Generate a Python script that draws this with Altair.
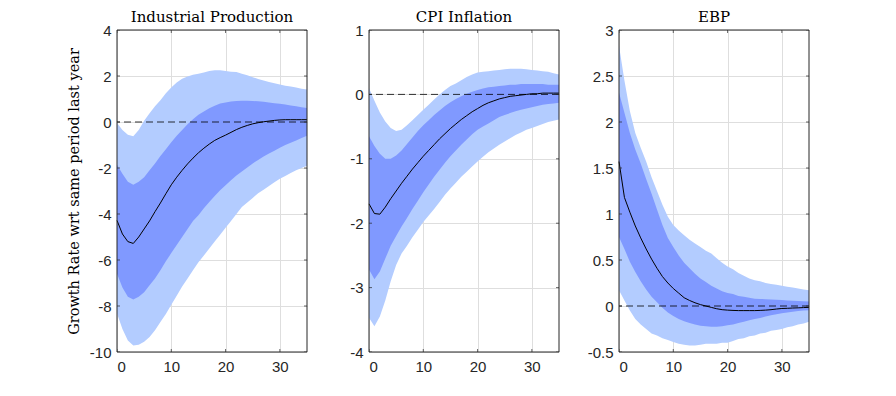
import altair as alt
import pandas as pd

horizon = list(range(36))

titles = ["Industrial Production", "CPI Inflation", "EBP"]
y_title = "Growth Rate wrt same period last year"

# Industrial Production
ip_med = [-4.28, -4.87, -5.2, -5.28, -5.0, -4.65, -4.3, -3.9, -3.52, -3.12, -2.73, -2.4, -2.1, -1.82, -1.57, -1.34,
          -1.14, -0.96, -0.8, -0.68, -0.57, -0.45, -0.33, -0.23, -0.15, -0.08, -0.03, 0.01, 0.04, 0.07, 0.09, 0.1,
          0.1, 0.1, 0.1, 0.1]
ip_in_hi = [-1.86, -2.25, -2.6, -2.73, -2.6, -2.4, -2.1, -1.8, -1.48, -1.18, -0.88, -0.6, -0.35, -0.1, 0.12, 0.32,
            0.46, 0.6, 0.71, 0.8, 0.85, 0.89, 0.91, 0.92, 0.92, 0.91, 0.9, 0.88, 0.85, 0.82, 0.79, 0.76, 0.72, 0.68,
            0.64, 0.61]
ip_in_lo = [-6.6, -7.2, -7.6, -7.72, -7.6, -7.4, -7.1, -6.8, -6.45, -6.05, -5.7, -5.35, -5.0, -4.65, -4.3, -4.05,
            -3.75, -3.48, -3.22, -2.97, -2.75, -2.53, -2.33, -2.15, -1.98, -1.8, -1.65, -1.5, -1.37, -1.25, -1.12,
            -1.0, -0.9, -0.8, -0.7, -0.6]
ip_out_hi = [-0.04, -0.35, -0.55, -0.62, -0.35, 0.05, 0.38, 0.68, 0.95, 1.25, 1.5, 1.72, 1.88, 1.98, 2.05, 2.1,
             2.15, 2.22, 2.25, 2.25, 2.22, 2.19, 2.17, 2.1, 2.03, 1.95, 1.87, 1.8, 1.74, 1.68, 1.63, 1.58, 1.54, 1.5,
             1.45, 1.41]
ip_out_lo = [-8.33, -9.0, -9.5, -9.72, -9.68, -9.55, -9.35, -9.05, -8.7, -8.35, -7.95, -7.55, -7.15, -6.8, -6.45,
             -6.1, -5.8, -5.5, -5.2, -4.9, -4.6, -4.3, -4.0, -3.7, -3.5, -3.3, -3.1, -2.95, -2.78, -2.62, -2.47,
             -2.35, -2.22, -2.1, -2.0, -1.9]

# CPI Inflation
cpi_med = [-1.7, -1.85, -1.86, -1.75, -1.62, -1.5, -1.38, -1.27, -1.16, -1.06, -0.96, -0.87, -0.78, -0.69, -0.61,
           -0.53, -0.46, -0.39, -0.33, -0.27, -0.22, -0.17, -0.13, -0.1, -0.07, -0.05, -0.03, -0.02, -0.01, 0.0,
           0.01, 0.01, 0.02, 0.02, 0.02, 0.02]
cpi_in_hi = [-0.65, -0.8, -0.92, -1.0, -1.0, -0.95, -0.87, -0.77, -0.67, -0.57, -0.48, -0.4, -0.32, -0.25, -0.18,
             -0.12, -0.07, -0.03, 0.01, 0.04, 0.07, 0.09, 0.11, 0.12, 0.13, 0.14, 0.15, 0.15, 0.16, 0.16, 0.16,
             0.16, 0.16, 0.15, 0.15, 0.15]
cpi_in_lo = [-2.72, -2.87, -2.75, -2.55, -2.35, -2.2, -2.05, -1.92, -1.78, -1.65, -1.52, -1.4, -1.28, -1.17, -1.06,
             -0.96, -0.87, -0.78, -0.7, -0.62, -0.55, -0.5, -0.45, -0.4, -0.35, -0.32, -0.29, -0.26, -0.24, -0.22,
             -0.2, -0.18, -0.16, -0.15, -0.14, -0.13]
cpi_out_hi = [0.1, -0.1, -0.28, -0.42, -0.52, -0.57, -0.55, -0.48, -0.4, -0.32, -0.24, -0.16, -0.08, 0.0, 0.07,
              0.13, 0.17, 0.22, 0.27, 0.31, 0.34, 0.35, 0.36, 0.37, 0.38, 0.39, 0.4, 0.4, 0.4, 0.39, 0.38, 0.37,
              0.36, 0.35, 0.33, 0.31]
cpi_out_lo = [-3.47, -3.6, -3.45, -3.2, -2.9, -2.65, -2.47, -2.35, -2.22, -2.1, -1.98, -1.88, -1.78, -1.67, -1.56,
              -1.46, -1.37, -1.28, -1.2, -1.12, -1.04, -0.97, -0.9, -0.84, -0.78, -0.73, -0.68, -0.63, -0.59, -0.55,
              -0.52, -0.49, -0.46, -0.43, -0.41, -0.39]

# EBP
ebp_med = [1.57, 1.18, 1.02, 0.87, 0.74, 0.62, 0.51, 0.41, 0.32, 0.25, 0.19, 0.14, 0.09, 0.06, 0.035, 0.015, 0.0,
           -0.015, -0.03, -0.04, -0.045, -0.048, -0.05, -0.05, -0.05, -0.05, -0.048, -0.045, -0.04, -0.033, -0.027,
           -0.025, -0.022, -0.02, -0.017, -0.015]
ebp_in_hi = [2.32, 2.1, 1.88, 1.7, 1.55, 1.38, 1.22, 1.05, 0.88, 0.74, 0.64, 0.55, 0.47, 0.41, 0.35, 0.3, 0.26,
             0.22, 0.19, 0.16, 0.14, 0.13, 0.11, 0.1, 0.09, 0.08, 0.077, 0.074, 0.07, 0.067, 0.065, 0.06, 0.058,
             0.055, 0.052, 0.05]
ebp_in_lo = [0.75, 0.62, 0.48, 0.37, 0.27, 0.18, 0.1, 0.04, -0.02, -0.07, -0.11, -0.14, -0.165, -0.185, -0.2,
             -0.215, -0.22, -0.225, -0.225, -0.22, -0.21, -0.2, -0.185, -0.17, -0.155, -0.14, -0.13, -0.115, -0.1,
             -0.09, -0.08, -0.07, -0.062, -0.055, -0.05, -0.045]
ebp_out_hi = [2.83, 2.45, 2.12, 1.88, 1.72, 1.57, 1.4, 1.25, 1.1, 0.97, 0.88, 0.82, 0.77, 0.72, 0.68, 0.64, 0.6,
              0.57, 0.52, 0.47, 0.43, 0.4, 0.36, 0.33, 0.3, 0.28, 0.27, 0.25, 0.24, 0.23, 0.22, 0.21, 0.2, 0.19,
              0.18, 0.17]
ebp_out_lo = [0.17, 0.06, -0.05, -0.14, -0.2, -0.25, -0.3, -0.32, -0.35, -0.37, -0.39, -0.41, -0.42, -0.43, -0.43,
              -0.42, -0.41, -0.41, -0.41, -0.4, -0.4, -0.38, -0.36, -0.35, -0.33, -0.32, -0.3, -0.29, -0.27, -0.26,
              -0.25, -0.23, -0.22, -0.2, -0.19, -0.17]

x_ticks = [0, 10, 20, 30]
y_ticks_list = [
    [-10, -8, -6, -4, -2, 0, 2, 4],
    [-4, -3, -2, -1, 0, 1],
    [-0.5, 0, 0.5, 1, 1.5, 2, 2.5, 3],
]
y_domains = [[-10, 4], [-4, 1], [-0.5, 3]]

series = [
    (ip_med, ip_in_lo, ip_in_hi, ip_out_lo, ip_out_hi),
    (cpi_med, cpi_in_lo, cpi_in_hi, cpi_out_lo, cpi_out_hi),
    (ebp_med, ebp_in_lo, ebp_in_hi, ebp_out_lo, ebp_out_hi),
]

LIGHT = "#b3ccff"
DARK = "#8099ff"
FRAME = "#262626"
SERIF = "DejaVu Serif"
W, H = 190, 322
X_MAX = 35


def panel(i):
    med, in_lo, in_hi, out_lo, out_hi = series[i]
    df = pd.DataFrame({"h": horizon, "med": med, "in_lo": in_lo, "in_hi": in_hi,
                       "out_lo": out_lo, "out_hi": out_hi})
    ydom = y_domains[i]
    xs = alt.Scale(domain=[0, X_MAX], nice=False, zero=False)
    ys = alt.Scale(domain=ydom, nice=False, zero=False)
    yaxis = alt.Axis(values=y_ticks_list[i], grid=True, ticks=False, domain=False,
                     labelExpr="toString(datum.value)", labelPadding=6,
                     minExtent=30, maxExtent=30,
                     title=y_title if i == 0 else None,
                     titleFont=SERIF, titleFontSize=14.5, titleFontWeight="normal",
                     titleColor="black", titlePadding=6)
    xaxis = alt.Axis(values=x_ticks, grid=True, ticks=False, domain=False,
                     labelExpr="toString(datum.value)", labelPadding=7, title=None)
    base = alt.Chart(df)
    outer = base.mark_area(color=LIGHT, opacity=1).encode(
        x=alt.X("h:Q", scale=xs, axis=xaxis), y=alt.Y("out_lo:Q", scale=ys, axis=yaxis), y2="out_hi:Q")
    inner = base.mark_area(color=DARK, opacity=1).encode(
        x=alt.X("h:Q"), y=alt.Y("in_lo:Q"), y2="in_hi:Q")
    zero = alt.Chart(pd.DataFrame({"z": [0]})).mark_rule(color="black", strokeDash=[7, 4], strokeWidth=0.8).encode(
        y=alt.Y("z:Q"))
    line = base.mark_line(color="black", strokeWidth=1).encode(x="h:Q", y="med:Q")

    # inward tick marks on all four sides
    xt = pd.DataFrame({"t": x_ticks * 2, "edge": [ydom[0]] * len(x_ticks) + [ydom[1]] * len(x_ticks)})
    yt = pd.DataFrame({"t": y_ticks_list[i] * 2,
                       "edge": [0] * len(y_ticks_list[i]) + [X_MAX] * len(y_ticks_list[i])})
    xtick = alt.Chart(xt).mark_tick(orient="vertical", size=6, thickness=1, color=FRAME, clip=True).encode(
        x="t:Q", y="edge:Q")
    ytick = alt.Chart(yt).mark_tick(orient="horizontal", size=6, thickness=1, color=FRAME, clip=True).encode(
        x="edge:Q", y="t:Q")

    # box around the plot area, drawn above the grid
    box = alt.Chart(pd.DataFrame({"x0": [0], "x1": [X_MAX], "y0": [ydom[0]], "y1": [ydom[1]]})).mark_rect(
        filled=False, stroke=FRAME, strokeWidth=1).encode(
        x="x0:Q", x2="x1:Q", y="y0:Q", y2="y1:Q")

    return alt.layer(outer, inner, zero, line, xtick, ytick, box).properties(
        width=W, height=H,
        title=alt.TitleParams(titles[i], font=SERIF, fontSize=15, fontWeight="normal",
                              color="black", offset=-2))


left = alt.hconcat(panel(0), panel(1), spacing=30)
chart = alt.hconcat(left, panel(2), spacing=26).configure_view(
    stroke=None
).configure_axis(
    labelFont="Liberation Sans", labelFontSize=15, labelColor=FRAME,
    gridColor="#dedede", gridWidth=1
).properties(padding={"left": 58, "top": 2, "right": 5, "bottom": 5}, background="white")

chart.save("out.html", embed_options={"renderer": "svg", "actions": False})
